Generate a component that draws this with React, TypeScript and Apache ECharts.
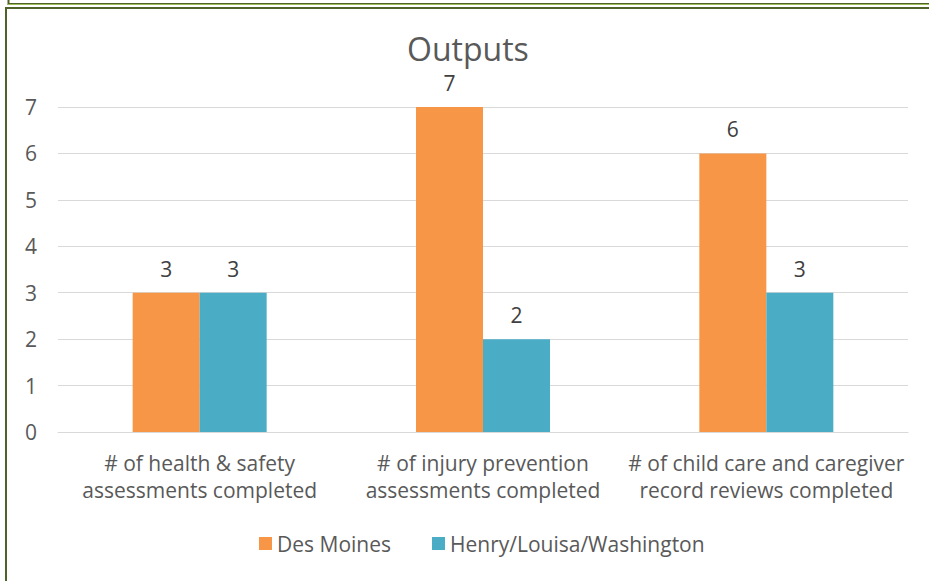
import React, { useEffect, useRef } from "react";
import * as echarts from "echarts";

const categories = [
  "# of health & safety\nassessments completed",
  "# of injury prevention\nassessments completed",
  "# of child care and caregiver\nrecord reviews completed",
];
const desMoines = [3, 7, 6];
const henry = [3, 2, 3];
const yTicks = [0, 1, 2, 3, 4, 5, 6, 7];

const FONT = "'Open Sans', 'Noto Sans', sans-serif";
const FS = 21;

export default function App() {
  const ref = useRef<HTMLDivElement>(null);
  useEffect(() => {
    if (!ref.current) return;
    const chart = echarts.init(ref.current, null, { renderer: "svg" });
    chart.setOption({
      animation: false,
      backgroundColor: "#ffffff",
      textStyle: { fontFamily: FONT },
      title: {
        text: "Outputs",
        left: 407,
        top: 31,
        padding: 0,
        textStyle: {
          fontSize: 32,
          lineHeight: 34,
          fontWeight: "normal",
          color: "#595959",
          fontFamily: FONT,
        },
      },
      graphic: [
        {
          type: "rect",
          shape: { x: 8.5, y: -5, width: 940, height: 9 },
          style: { fill: "none", stroke: "#4f6228", lineWidth: 2 },
        },
        {
          type: "rect",
          shape: { x: 6, y: 8, width: 940, height: 590 },
          style: { fill: "none", stroke: "#4f6228", lineWidth: 2 },
        },
        {
          type: "line",
          shape: { x1: 8, y1: 4.5, x2: 929, y2: 4.5 },
          style: { stroke: "#9bbb59", lineWidth: 1 },
        },
      ],
      legend: {
        bottom: 22,
        left: 254,
        itemWidth: 13,
        itemHeight: 13,
        itemGap: 41,
        icon: "rect",
        textStyle: { fontSize: FS, color: "#595959", fontFamily: FONT },
        data: ["Des Moines", "Henry/Louisa/Washington"],
      },
      grid: { left: 58, right: 21, top: 107, bottom: 149, containLabel: false },
      xAxis: {
        type: "category",
        data: categories,
        axisTick: { show: false },
        axisLine: { show: true, lineStyle: { color: "#d9d9d9", width: 1 } },
        axisLabel: {
          fontSize: FS,
          color: "#595959",
          lineHeight: 27,
          margin: 17,
          interval: 0,
          fontFamily: FONT,
        },
      },
      yAxis: {
        type: "value",
        min: 0,
        max: yTicks[yTicks.length - 1],
        interval: 1,
        axisLine: { show: false },
        axisTick: { show: false },
        splitLine: { lineStyle: { color: "#d9d9d9", width: 1 } },
        axisLabel: { fontSize: FS, color: "#595959", margin: 21, fontFamily: FONT },
      },
      series: [
        {
          name: "Des Moines",
          type: "bar",
          data: desMoines,
          barWidth: 67,
          barGap: "0%",
          itemStyle: { color: "#f79646" },
          label: {
            show: true,
            position: "top",
            distance: 14,
            fontSize: FS,
            lineHeight: 20,
            color: "#404040",
            fontFamily: FONT,
          },
        },
        {
          name: "Henry/Louisa/Washington",
          type: "bar",
          data: henry,
          barWidth: 67,
          barGap: "0%",
          itemStyle: { color: "#4bacc6" },
          label: {
            show: true,
            position: "top",
            distance: 14,
            fontSize: FS,
            lineHeight: 20,
            color: "#404040",
            fontFamily: FONT,
          },
        },
      ],
    });
    return () => chart.dispose();
  }, []);
  return <div ref={ref} style={{ width: 929, height: 581, position: "absolute", left: 0, top: 0 }} />;
}
